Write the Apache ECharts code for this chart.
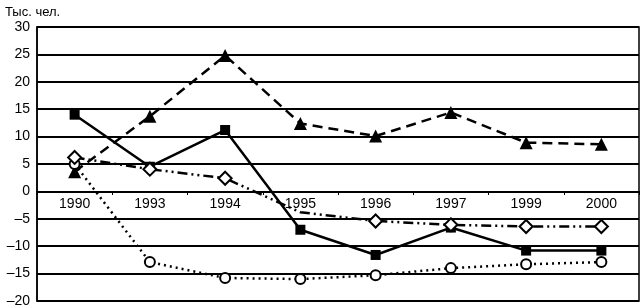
<!DOCTYPE html>
<html><head><meta charset="utf-8">
<script src="https://cdn.jsdelivr.net/npm/echarts@6/dist/echarts.min.js"></script>
<style>html,body{margin:0;padding:0;background:#fff}#c{width:640px;height:308px}</style>
</head><body><div id="c"></div>
<script>
const categories = ['1990','1993','1994','1995','1996','1997','1999','2000'];
const squares  = [14, 4.5, 11.2, -7.0, -11.6, -6.6, -10.8, -10.8];
const triangles = [3.6, 13.7, 24.8, 12.4, 10.1, 14.4, 8.9, 8.6];
const diamonds = [6.2, 4.05, 2.4, -3.8, -5.4, -6.1, -6.4, -6.4];
const circles  = [5, -12.9, -15.8, -16, -15.3, -14.0, -13.3, -12.9];
const yTicks = {min: -20, max: 30, interval: 5};
const FONT = '"Liberation Sans Narrow", "Liberation Sans", Arial, sans-serif';

const gridTop = 27, gridBottom = 6, H = 308;
const plotH = H - gridTop - gridBottom;
const zeroOffset = plotH * (0 - yTicks.min) / (yTicks.max - yTicks.min);

const chart = echarts.init(document.getElementById('c'), null, {renderer: 'canvas'});
const base = {type: 'line', smooth: false, z: 3, animation: false};
chart.setOption({
  animation: false,
  title: {text: 'Тыс. чел.', left: 0, top: 1, textStyle: {fontFamily: FONT, fontSize: 13, fontWeight: 'normal', color: '#000'}},
  grid: {left: 37, right: 1, top: gridTop, bottom: gridBottom, show: true, borderColor: '#000', borderWidth: 1.5, backgroundColor: 'transparent'},
  xAxis: {
    type: 'category', data: categories, boundaryGap: true, position: 'bottom',
    offset: -zeroOffset,
    axisLine: {onZero: false, lineStyle: {color: '#000', width: 1}},
    axisTick: {show: true, length: 4, lineStyle: {color: '#000'}},
    axisLabel: {fontFamily: FONT, fontSize: 14, color: '#000', margin: 6},
    splitLine: {show: false}
  },
  yAxis: {
    type: 'value', min: yTicks.min, max: yTicks.max, interval: yTicks.interval,
    axisLine: {show: true, onZero: false, lineStyle: {color: '#000', width: 1.5}},
    axisTick: {show: false},
    axisLabel: {fontFamily: FONT, fontSize: 14, color: '#000', margin: 7,
      formatter: v => v < 0 ? '–' + Math.abs(v) : String(v)},
    splitLine: {show: true, lineStyle: {color: '#000', width: 2}}
  },
  series: [
    Object.assign({}, base, {name: 'triangles', data: triangles, symbol: 'triangle', symbolSize: 13,
      itemStyle: {color: '#000'}, lineStyle: {color: '#000', width: 2.5, type: [10, 6]}}),
    Object.assign({}, base, {name: 'squares', data: squares, symbol: 'rect', symbolSize: 10,
      itemStyle: {color: '#000'}, lineStyle: {color: '#000', width: 2.5, type: 'solid'}}),
    Object.assign({}, base, {name: 'circles', data: circles, symbol: 'circle', symbolSize: 10,
      showAllSymbol: true,
      itemStyle: {color: '#fff', borderColor: '#000', borderWidth: 2}, lineStyle: {color: '#000', width: 2.5, type: [2, 4]}}),
    Object.assign({}, base, {name: 'diamonds', data: diamonds,
      symbol: (v, p) => p.dataIndex === 3 ? 'none' : 'diamond', symbolSize: 13, showAllSymbol: true,
      itemStyle: {color: '#fff', borderColor: '#000', borderWidth: 2}, lineStyle: {color: '#000', width: 2.5, type: [10, 4, 2, 4, 2, 4]}})
  ]
});
</script></body></html>
